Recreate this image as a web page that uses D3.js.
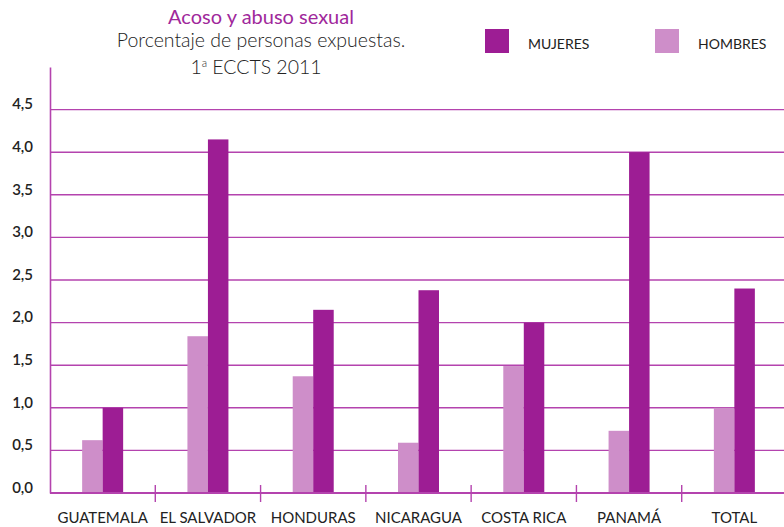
<!DOCTYPE html>
<html>
<head>
<meta charset="utf-8">
<script src="https://cdn.jsdelivr.net/npm/d3@7"></script>
<style>
  body { margin: 0; background: #fff; }
  text { font-family: "Lato", "Open Sans", sans-serif; }
</style>
</head>
<body>
<div id="chart"></div>
<script>
// Data
const categories = ["GUATEMALA", "EL SALVADOR", "HONDURAS", "NICARAGUA", "COSTA RICA", "PANAMÁ", "TOTAL"];
const mujeres = [1.0, 4.15, 2.15, 2.38, 2.0, 4.0, 2.4];
const hombres = [0.62, 1.84, 1.37, 0.59, 1.49, 0.73, 1.0];
const seriesNames = ["HOMBRES", "MUJERES"];
const yTicks = [0, 0.5, 1, 1.5, 2, 2.5, 3, 3.5, 4, 4.5];

const COLORS = { MUJERES: "#9d1d94", HOMBRES: "#ce8ec9" };
const GRID = "#b443ae";

const W = 784, H = 527;
const LEFT = 50, BASE = 493, TOP = 67;

const svg = d3.select("#chart").append("svg")
  .attr("width", W)
  .attr("height", H);

// Scales
const x0 = d3.scaleBand().domain(categories).range([LEFT, 787]).padding(0);
const bw = x0.bandwidth();
const pairW = 41;
const x1 = d3.scaleBand().domain(seriesNames).range([(bw - pairW) / 2, (bw + pairW) / 2]);
const y = d3.scaleLinear().domain([0, 5]).range([BASE, TOP]);

// Gridlines
svg.append("g").selectAll("line")
  .data(yTicks.filter(d => d > 0))
  .enter().append("line")
  .attr("x1", LEFT).attr("x2", W)
  .attr("y1", d => y(d)).attr("y2", d => y(d))
  .attr("stroke", GRID)
  .attr("stroke-width", 1.4);

// Bars
const rows = categories.map((c, i) => ({ cat: c, HOMBRES: hombres[i], MUJERES: mujeres[i] }));

const groups = svg.append("g").selectAll("g")
  .data(rows)
  .enter().append("g")
  .attr("transform", d => `translate(${x0(d.cat)},0)`);

groups.selectAll("rect")
  .data(d => seriesNames.map(s => ({ s: s, v: d[s] })))
  .enter().append("rect")
  .attr("x", d => x1(d.s))
  .attr("width", x1.bandwidth())
  .attr("y", d => y(d.v))
  .attr("height", d => BASE - y(d.v))
  .attr("fill", d => COLORS[d.s]);

// Y axis
const yAxis = svg.append("g")
  .attr("transform", `translate(${LEFT},0)`)
  .call(d3.axisLeft(y).tickValues(yTicks).tickSize(0).tickSizeOuter(0).tickPadding(17)
    .tickFormat(d => d3.format(".1f")(d).replace(".", ",")));
yAxis.select(".domain").attr("stroke", GRID).attr("stroke-width", 1.6);
yAxis.selectAll("text")
  .attr("dy", "-0.05em")
  .attr("font-size", "15px")
  .attr("font-weight", 600)
  .attr("fill", "#222")
  .style("font-family", "Lato, 'Open Sans', sans-serif");

// X baseline
svg.append("line")
  .attr("x1", LEFT).attr("x2", W)
  .attr("y1", BASE).attr("y2", BASE)
  .attr("stroke", GRID).attr("stroke-width", 1.8);

// Group separators
svg.append("g").selectAll("line")
  .data(categories.slice(1))
  .enter().append("line")
  .attr("x1", d => x0(d)).attr("x2", d => x0(d))
  .attr("y1", 485).attr("y2", 502)
  .attr("stroke", GRID).attr("stroke-width", 1.4);

// X labels
svg.append("g").selectAll("text")
  .data(categories)
  .enter().append("text")
  .attr("x", d => x0(d) + bw / 2)
  .attr("y", 523)
  .attr("text-anchor", "middle")
  .attr("font-size", "15px")
  .attr("fill", "#222")
  .text(d => d);

// Title
svg.append("text")
  .attr("x", 261).attr("y", 24)
  .attr("text-anchor", "middle")
  .attr("font-size", "20px")
  .attr("fill", "#a0289b")
  .text("Acoso y abuso sexual");

svg.append("text")
  .attr("x", 261).attr("y", 47)
  .attr("text-anchor", "middle")
  .attr("font-size", "19.5px")
  .attr("font-weight", 300)
  .attr("fill", "#222")
  .text("Porcentaje de personas expuestas.");

const t3 = svg.append("text")
  .attr("x", 256).attr("y", 74)
  .attr("text-anchor", "middle")
  .attr("font-size", "19.5px")
  .attr("font-weight", 300)
  .attr("fill", "#222");
t3.append("tspan").text("1");
t3.append("tspan").attr("font-size", "11px").attr("dy", "-7").text("a");
t3.append("tspan").attr("dy", "7").text(" ECCTS 2011");

// Legend
const legendItems = [
  { name: "MUJERES", x: 485, tx: 528 },
  { name: "HOMBRES", x: 655, tx: 698 }
];
const lg = svg.append("g").selectAll("g")
  .data(legendItems)
  .enter().append("g");
lg.append("rect")
  .attr("x", d => d.x).attr("y", 29)
  .attr("width", 24).attr("height", 24)
  .attr("fill", d => COLORS[d.name]);
lg.append("text")
  .attr("x", d => d.tx).attr("y", 49)
  .attr("font-size", "14px")
  .attr("fill", "#222")
  .text(d => d.name);
</script>
</body>
</html>
